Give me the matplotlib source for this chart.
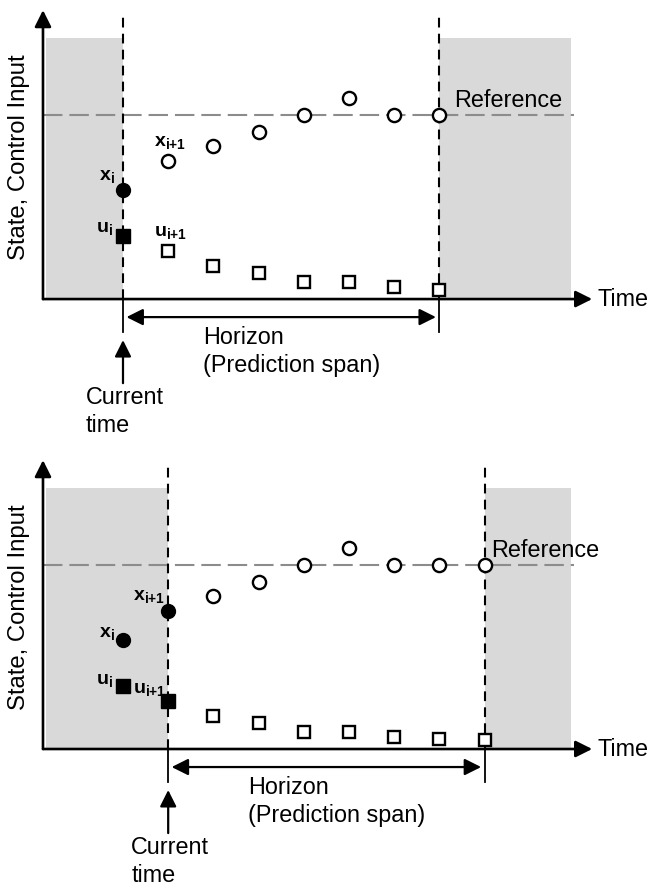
import matplotlib
matplotlib.use('Agg')
import matplotlib.pyplot as plt
from matplotlib.patches import Rectangle

plt.rcParams['font.family'] = ['Liberation Sans', 'DejaVu Sans']
plt.rcParams['mathtext.fontset'] = 'custom'
plt.rcParams['mathtext.bf'] = 'Liberation Sans:bold'
plt.rcParams['mathtext.rm'] = 'Liberation Sans'
plt.rcParams['mathtext.it'] = 'Liberation Sans:italic'
plt.rcParams['lines.scale_dashes'] = False

# ---------------- data ----------------
reference = 10.0

# Panel 1: at time step i
p1_current = 0
p1_horizon_end = 7
p1_past_steps = [0]
p1_state_past = [5.9]
p1_input_past = [3.4]
p1_pred_steps = [1, 2, 3, 4, 5, 6, 7]
p1_state_pred = [7.5, 8.3, 9.1, 10.0, 10.9, 10.0, 10.0]
p1_input_pred = [2.6, 1.8, 1.4, 0.9, 0.9, 0.65, 0.5]

# Panel 2: at time step i+1
p2_current = 1
p2_horizon_end = 8
p2_past_steps = [0, 1]
p2_state_past = [5.9, 7.5]
p2_input_past = [3.4, 2.6]
p2_pred_steps = [2, 3, 4, 5, 6, 7, 8]
p2_state_pred = [8.3, 9.1, 10.0, 10.9, 10.0, 10.0, 10.0]
p2_input_pred = [1.8, 1.4, 0.9, 0.9, 0.65, 0.54, 0.5]

# ---------------- layout ----------------
W, H = 647, 885
fig = plt.figure(figsize=(W / 100, H / 100), dpi=100)

XLIM = (-2.721, 11.593)
AX_X = -1.77      # y-axis position
AX_END = 10.38    # x-axis arrow tip
AX_TOP = 15.7     # y-axis arrow tip
SHADE_L = -1.70
SHADE_R = 9.91
SHADE_TOP = 14.18
GRAY = '#d9d9d9'
MAIN_FS = 16.8

LBL_XI = r'$\mathbf{x}_{\mathbf{i}}$'
LBL_XI1 = r'$\mathbf{x}_{\mathbf{i{+}1}}$'
LBL_UI = r'$\mathbf{u}_{\mathbf{i}}$'
LBL_UI1 = r'$\mathbf{u}_{\mathbf{i{+}1}}$'


def arrow(ax, start, end, style='-|>', lw=1.8, ms=20, shrink=0):
    ax.annotate('', xy=end, xytext=start, xycoords='data', textcoords='data',
                arrowprops=dict(arrowstyle=style + ',head_length=0.5,head_width=0.25',
                                mutation_scale=ms, lw=lw, color='black',
                                shrinkA=shrink, shrinkB=shrink),
                annotation_clip=False)


def draw_panel(ax, c, h, past_steps, state_past, input_past, pred_steps,
               state_pred, input_pred, labels, ref_dx):
    ax.set_xlim(*XLIM)
    ax.axis('off')
    # shaded regions
    ax.add_patch(Rectangle((SHADE_L, 0), c - SHADE_L, SHADE_TOP, color=GRAY, lw=0, zorder=0))
    ax.add_patch(Rectangle((h, 0), SHADE_R - h, SHADE_TOP, color=GRAY, lw=0, zorder=0))
    # reference line
    ax.plot([AX_X, 9.98], [reference, reference], color='#8c8c8c', lw=1.5,
            dashes=(14, 5), zorder=1)
    # vertical dashed lines
    for xv in (c, h):
        ax.plot([xv, xv], [0, 15.4], color='black', lw=1.5, dashes=(7, 4.5), zorder=2)
        ax.plot([xv, xv], [-1.8, 0], color='black', lw=1.3, zorder=2)
    # axes arrows
    arrow(ax, (AX_X, 0), (AX_END, 0), lw=1.9)
    arrow(ax, (AX_X, 0), (AX_X, AX_TOP), lw=1.9)
    # horizon arrow
    arrow(ax, (c, -0.98), (h, -0.98), style='<|-|>', lw=1.6, shrink=2.5)
    # current time arrow
    arrow(ax, (c, -4.57), (c, -2.23), lw=1.6)
    # markers
    ax.plot(pred_steps, state_pred, linestyle='none', marker='o', ms=9.5,
            mfc='white', mec='black', mew=1.7, zorder=4)
    ax.plot(pred_steps, input_pred, linestyle='none', marker='s', ms=9.3,
            mfc='white', mec='black', mew=1.7, zorder=4)
    ax.plot(past_steps, state_past, linestyle='none', marker='o', ms=10,
            mfc='black', mec='black', zorder=4)
    ax.plot(past_steps, input_past, linestyle='none', marker='s', ms=10,
            mfc='black', mec='black', zorder=4)
    # texts
    ax.text(10.49, 0, 'Time', fontsize=MAIN_FS, ha='left', va='center')
    ax.text(h + ref_dx, 10.8, 'Reference', fontsize=MAIN_FS, ha='left', va='center')
    ax.text(c + 1.77, -2.07, 'Horizon', fontsize=MAIN_FS, ha='left', va='center')
    ax.text(c + 1.77, -3.59, '(Prediction span)', fontsize=MAIN_FS, ha='left', va='center')
    ax.text(c - 0.82, -5.33, 'Current', fontsize=MAIN_FS, ha='left', va='center')
    ax.text(c - 0.82, -6.85, 'time', fontsize=MAIN_FS, ha='left', va='center')
    ax.text(-2.30, 7.7, 'State, Control Input', fontsize=17.2, rotation=90,
            ha='center', va='center')
    for (tx, ty, s, ha) in labels:
        ax.text(tx, ty, s, fontsize=14, ha=ha, va='center')


ax1 = fig.add_axes([0, 1 - 445 / H, 1, 445 / H])
ax1.set_ylim(-7.93, 16.25)
draw_panel(ax1, p1_current, p1_horizon_end, p1_past_steps, p1_state_past,
           p1_input_past, p1_pred_steps, p1_state_pred, p1_input_pred,
           [(-0.18, 6.68, LBL_XI, 'right'),
            (0.69, 8.48, LBL_XI1, 'left'),
            (-0.22, 3.86, LBL_UI, 'right'),
            (0.69, 3.64, LBL_UI1, 'left')],
           ref_dx=0.32)

ax2 = fig.add_axes([0, 0, 1, 435 / H])
ax2.set_ylim(-7.391, 16.25)
draw_panel(ax2, p2_current, p2_horizon_end, p2_past_steps, p2_state_past,
           p2_input_past, p2_pred_steps, p2_state_pred, p2_input_pred,
           [(-0.18, 6.3, LBL_XI, 'right'),
            (0.93, 8.3, LBL_XI1, 'right'),
            (-0.22, 3.75, LBL_UI, 'right'),
            (0.95, 3.26, LBL_UI1, 'right')],
           ref_dx=0.14)

fig.savefig('out.png', dpi=100)
